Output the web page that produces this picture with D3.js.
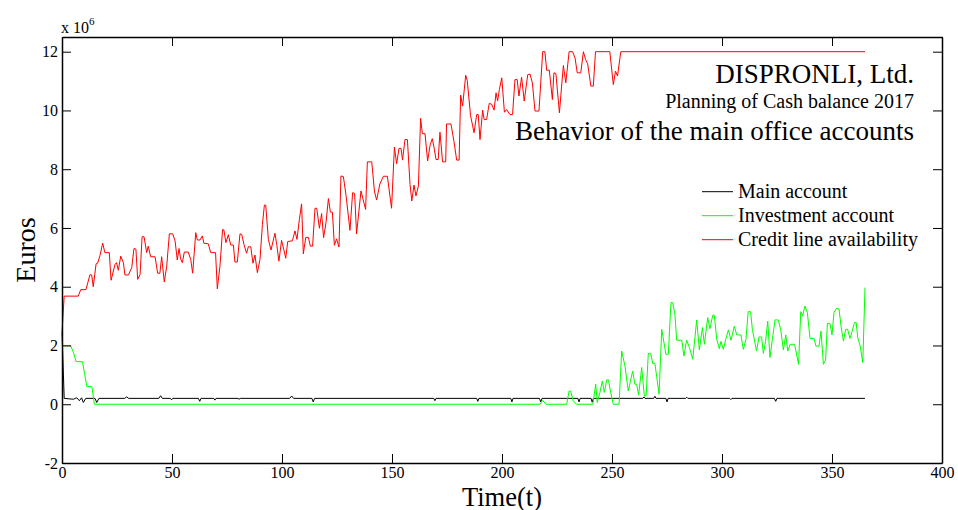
<!DOCTYPE html>
<html><head><meta charset="utf-8">
<script src="https://cdn.jsdelivr.net/npm/d3@7"></script>
<style>
body{margin:0;background:#fff}
svg{display:block}
text{font-family:"Liberation Serif","Times New Roman",serif;fill:#000}
</style>
</head><body>
<svg id="c" width="958" height="510"></svg>
<script>
// ---- data ----
const xTicks = [0,50,100,150,200,250,300,350,400];
const yTicks = [-2,0,2,4,6,8,10,12];
const seriesNames = ["Main account","Investment account","Credit line availability"];
const seriesColors = ["#000000","#00ff00","#ff0000"];

// Credit line availability (x 10^6 euros), day / value pairs
const creditT = [0,1,7.4,8.5,10.9,12.7,13.5,14.2,15.5,16.2,17.3,18.5,19.5,21.5,22.3,24.1,24.8,25.6,26.7,27.9,28.6,30.2,31.7,32.7,33.6,34.4,35.5,36.4,37.3,38.5,39.2,40.3,42.3,43.5,44.5,45.3,46.5,47.6,48.8,50.3,51.4,52.4,53.2,53.9,54.7,55.6,57.4,58.5,59.4,60.8,61.5,62.7,63.8,64.5,66.5,67.6,69.8,70.6,71.8,73.0,73.6,74.5,75.6,76.7,77.9,78.6,79.7,80.9,81.7,82.7,83.9,84.7,85.8,86.8,87.7,88.8,90.0,91.1,92.0,92.6,93.8,95.0,96.8,97.6,98.6,99.8,100.8,101.7,102.6,104.7,105.9,106.8,107.9,108.9,109.7,110.8,112.0,112.9,113.9,115.0,115.8,117.0,118.0,118.9,120.0,121.1,122.0,122.9,123.8,124.8,125.9,126.8,127.9,129.1,130.9,132.1,133.0,133.9,135.9,138.0,138.8,140.8,142.0,143.0,144.5,146.1,147.9,149.8,151.1,152.1,153.2,154.1,154.8,155.9,157.0,158.2,159.0,160.0,160.9,162.0,163.0,163.8,165.0,166.2,167.3,168.3,169.2,170.0,171.0,171.8,173.0,174.4,174.8,176.8,178.2,179.4,180.5,181.2,182.1,183.5,184.2,185.7,187.3,188.5,189.2,190.0,191.2,191.9,193.0,194.2,195.3,196.4,197.3,198.0,198.8,199.9,201.1,202.1,203.6,204.8,205.9,206.9,207.7,208.9,210.1,211.7,212.7,213.8,215.0,216.8,218.5,219.5,220.3,221.5,222.9,223.6,224.5,226.1,227.1,227.9,229.0,230.5,232.1,233.2,234.2,235.8,237.0,238.0,238.9,240.4,241.5,242.5,249.0,250.6,251.6,252.5,254.0,365];
const creditV = [2.45,3.68,3.68,3.9,3.9,4.41,4.4,4.0,4.78,4.8,5.07,5.48,5.16,5.16,4.22,4.76,4.82,4.56,5.04,4.82,4.4,4.4,4.65,5.3,5.28,4.25,4.42,5.7,5.7,5.16,5.38,5.02,5.02,4.46,4.46,5.02,4.16,4.7,5.8,5.8,5.56,4.91,5.3,4.95,4.82,5.18,5.18,4.93,4.46,5.84,5.59,5.59,5.73,5.48,5.46,5.16,5.16,3.93,4.7,5.95,5.93,5.5,5.77,5.42,5.42,4.84,4.84,5.8,5.78,5.44,5.14,5.36,5.36,4.8,5.08,4.48,4.93,6.12,6.78,6.78,5.61,5.25,5.82,5.44,4.87,5.58,5.27,4.97,5.54,5.56,5.9,5.61,6.29,6.82,5.12,5.68,5.68,5.38,5.38,6.67,6.67,5.99,6.49,5.67,6.18,7.0,6.54,6.54,5.41,5.63,5.35,7.77,7.75,7.11,5.92,7.2,7.18,5.8,7.26,6.63,8.25,8.25,7.26,6.95,7.5,7.76,7.76,6.67,8.75,8.19,8.71,8.71,8.31,9.01,9.01,7.48,6.92,7.46,7.09,7.43,9.73,9.21,9.21,8.28,8.81,9.04,8.71,8.33,8.33,9.26,8.25,8.25,9.54,9.54,8.93,8.31,8.31,10.52,10.15,11.2,11.02,9.83,9.24,9.86,9.86,9.01,10.01,9.69,9.69,10.24,10.21,10.01,10.6,10.32,10.71,11.11,9.94,10.03,9.86,9.86,11.05,11.05,10.49,11.13,10.32,11.22,11.24,10.94,9.98,9.98,12.0,12.0,11.37,11.37,10.37,11.28,11.26,9.92,10.83,11.53,10.94,12.0,12.0,11.79,11.28,11.28,12.0,11.73,11.6,10.83,10.83,12.0,12.0,10.88,11.34,11.17,12.0,12.0];

// Investment account
const investT = [0,3.9,5.2,6.4,9.3,11.3,13.6,14.7,217.3,218.5,220.0,229.4,230.5,231.2,232.4,233.9,241.3,242.6,243.3,244.5,245.6,246.5,247.6,248.4,249.4,250.6,253.2,254.4,255.9,257.4,259.4,260.4,261.2,262.1,263.5,264.7,265.5,266.5,267.6,268.5,269.5,271.4,272.6,274.5,275.6,276.8,277.6,278.6,279.4,281.7,282.7,283.9,285.2,286.7,288.5,289.7,291.1,292.0,293.5,294.5,295.8,296.5,297.6,298.8,299.5,300.6,301.7,302.9,304.1,305.6,306.7,308.6,309.7,310.9,311.9,313.0,313.8,315.7,316.8,318.0,318.8,319.8,320.8,321.8,322.9,324.1,325.6,326.7,327.9,329.0,329.9,331.0,333.0,334.8,335.8,336.6,337.7,338.8,340.0,341.8,342.7,344.1,345.0,346.1,347.1,347.9,349.1,350.0,350.9,352.1,353.2,354.1,355.2,356.2,357.1,358.2,359.0,360.2,361.0,361.7,362.8,364.0,365.0];
const investV = [2.0,2.0,1.76,1.45,1.45,0.6,0.6,0,0,0.13,0,0,0.45,0.45,0.11,0,0,0.68,0.06,0.4,0.79,0.4,0.83,0.83,0.4,0,0,1.81,1.3,0.45,1.13,0.68,0.68,0.31,1.25,0.28,0.28,1.73,1.73,1.39,1.39,0.34,2.55,1.7,1.7,3.46,3.46,3.06,2.18,2.18,1.64,2.18,1.93,1.53,2.87,1.85,2.61,2.04,2.95,2.57,3.03,3.03,2.21,1.89,2.14,1.87,2.21,2.53,2.18,2.66,2.36,2.36,1.87,2.21,3.15,3.15,2.55,1.81,2.29,2.29,1.73,2.13,2.83,1.59,2.21,2.87,2.87,2.53,1.85,2.36,1.81,2.04,2.04,1.36,3.15,3.0,3.34,3.12,2.24,2.24,1.98,1.98,2.49,1.36,1.51,2.75,2.74,2.36,3.12,3.27,3.24,2.66,2.15,2.55,2.55,2.24,2.44,2.78,2.78,2.27,1.98,1.42,3.97];

// Main account
const mainT = [0,1,5.2,6.7,7.9,8.9,9.7,10.8,15.0,15.8,16.8,28.5,29.4,30.3,44.0,44.8,45.6,49.3,49.8,50.3,62.0,62.6,63.2,69.0,69.5,70.0,80.0,80.5,81.0,103.5,104.4,105.3,113.6,114.2,114.8,169.0,169.5,170.0,188.5,189.0,189.5,204.0,204.5,205.0,217.0,217.6,218.2,234.5,235.0,235.5,240.5,241.0,241.5,264.0,264.5,265.0,269.0,269.5,270.0,274.5,275.0,275.5,283.5,284.0,284.5,303.5,304.0,304.5,323.8,324.4,325.0,365];
const mainV = [2.45,0.2,0.17,0.22,0.12,0.22,0.06,0.2,0.2,0.06,0.2,0.2,0.25,0.2,0.2,0.29,0.2,0.2,0.15,0.2,0.2,0.1,0.2,0.2,0.14,0.2,0.2,0.17,0.2,0.2,0.28,0.2,0.2,0.08,0.2,0.2,0.12,0.2,0.2,0.1,0.2,0.2,0.08,0.2,0.2,0.08,0.2,0.2,0.08,0.2,0.2,0.07,0.2,0.2,0.25,0.2,0.2,0.27,0.2,0.2,0.08,0.2,0.2,0.24,0.2,0.2,0.16,0.2,0.2,0.1,0.2,0.2];

// ---- drawing ----
const svg = d3.select("#c");
const L = 62, R = 942, T = 37, B = 463;
const x = d3.scaleLinear().domain([0,400]).range([L,R]);
const y = d3.scaleLinear().domain([-2,12.5]).range([B,T]);

const line = d3.line().x(d => x(d[0])).y(d => y(d[1]));
const zip = (a,b) => a.map((t,i) => [t,b[i]]);
const series = [zip(mainT,mainV), zip(investT,investV), zip(creditT,creditV)];

series.forEach((s,i) => {
  svg.append("path").datum(s)
    .attr("fill","none").attr("stroke",seriesColors[i]).attr("stroke-width",1)
    .attr("d",line);
});

// axes (Matlab-style inward ticks, box on)
const fmt = d => String(d);
const axB = d3.axisBottom(x).tickValues(xTicks).tickSizeInner(-9).tickSizeOuter(0).tickPadding(4).tickFormat(fmt);
const axT = d3.axisTop(x).tickValues(xTicks).tickSizeInner(-9).tickSizeOuter(0).tickFormat("");
const axL = d3.axisLeft(y).tickValues(yTicks).tickSizeInner(-9).tickSizeOuter(0).tickPadding(4).tickFormat(fmt);
const axR = d3.axisRight(y).tickValues(yTicks).tickSizeInner(-9).tickSizeOuter(0).tickFormat("");

function styleAxis(g){
  g.select(".domain").attr("stroke","#000").attr("stroke-width",1.5);
  g.selectAll(".tick line").attr("stroke","#000").attr("stroke-width",1);
  g.selectAll("text").attr("font-family","Liberation Serif, Times New Roman, serif").attr("font-size",16).attr("fill","#000");
}
svg.append("g").attr("transform",`translate(0,${B})`).call(axB).call(styleAxis);
svg.append("g").attr("transform",`translate(0,${T})`).call(axT).call(styleAxis);
svg.append("g").attr("transform",`translate(${L},0)`).call(axL).call(styleAxis);
svg.append("g").attr("transform",`translate(${R},0)`).call(axR).call(styleAxis);

// exponent label
const ex = svg.append("text").attr("x",L-1).attr("y",T-4).attr("font-size",16);
ex.append("tspan").text("x 10");
ex.append("tspan").attr("font-size",11).attr("dy",-8).text("6");

// axis labels
svg.append("text").attr("x",(L+R)/2).attr("y",505.5).attr("text-anchor","middle").attr("font-size",26.5).text("Time(t)");
svg.append("text").attr("transform",`translate(35,${(T+B)/2}) rotate(-90)`).attr("text-anchor","middle").attr("font-size",28).text("Euros");

// titles
svg.append("text").attr("x",914).attr("y",83).attr("text-anchor","end").attr("font-size",27).text("DISPRONLI, Ltd.");
svg.append("text").attr("x",914).attr("y",108).attr("text-anchor","end").attr("font-size",20).text("Planning of Cash balance 2017");
svg.append("text").attr("x",914).attr("y",140).attr("text-anchor","end").attr("font-size",27).text("Behavior of the main office accounts");

// legend
const lg = svg.append("g");
seriesNames.forEach((n,i) => {
  const yy = 191.7 + i*24;
  lg.append("line").attr("x1",702).attr("x2",733).attr("y1",yy).attr("y2",yy)
    .attr("stroke",seriesColors[i]).attr("stroke-width",1);
  lg.append("text").attr("x",738).attr("y",yy+6.6).attr("font-size",20).text(n);
});
</script>
</body></html>
